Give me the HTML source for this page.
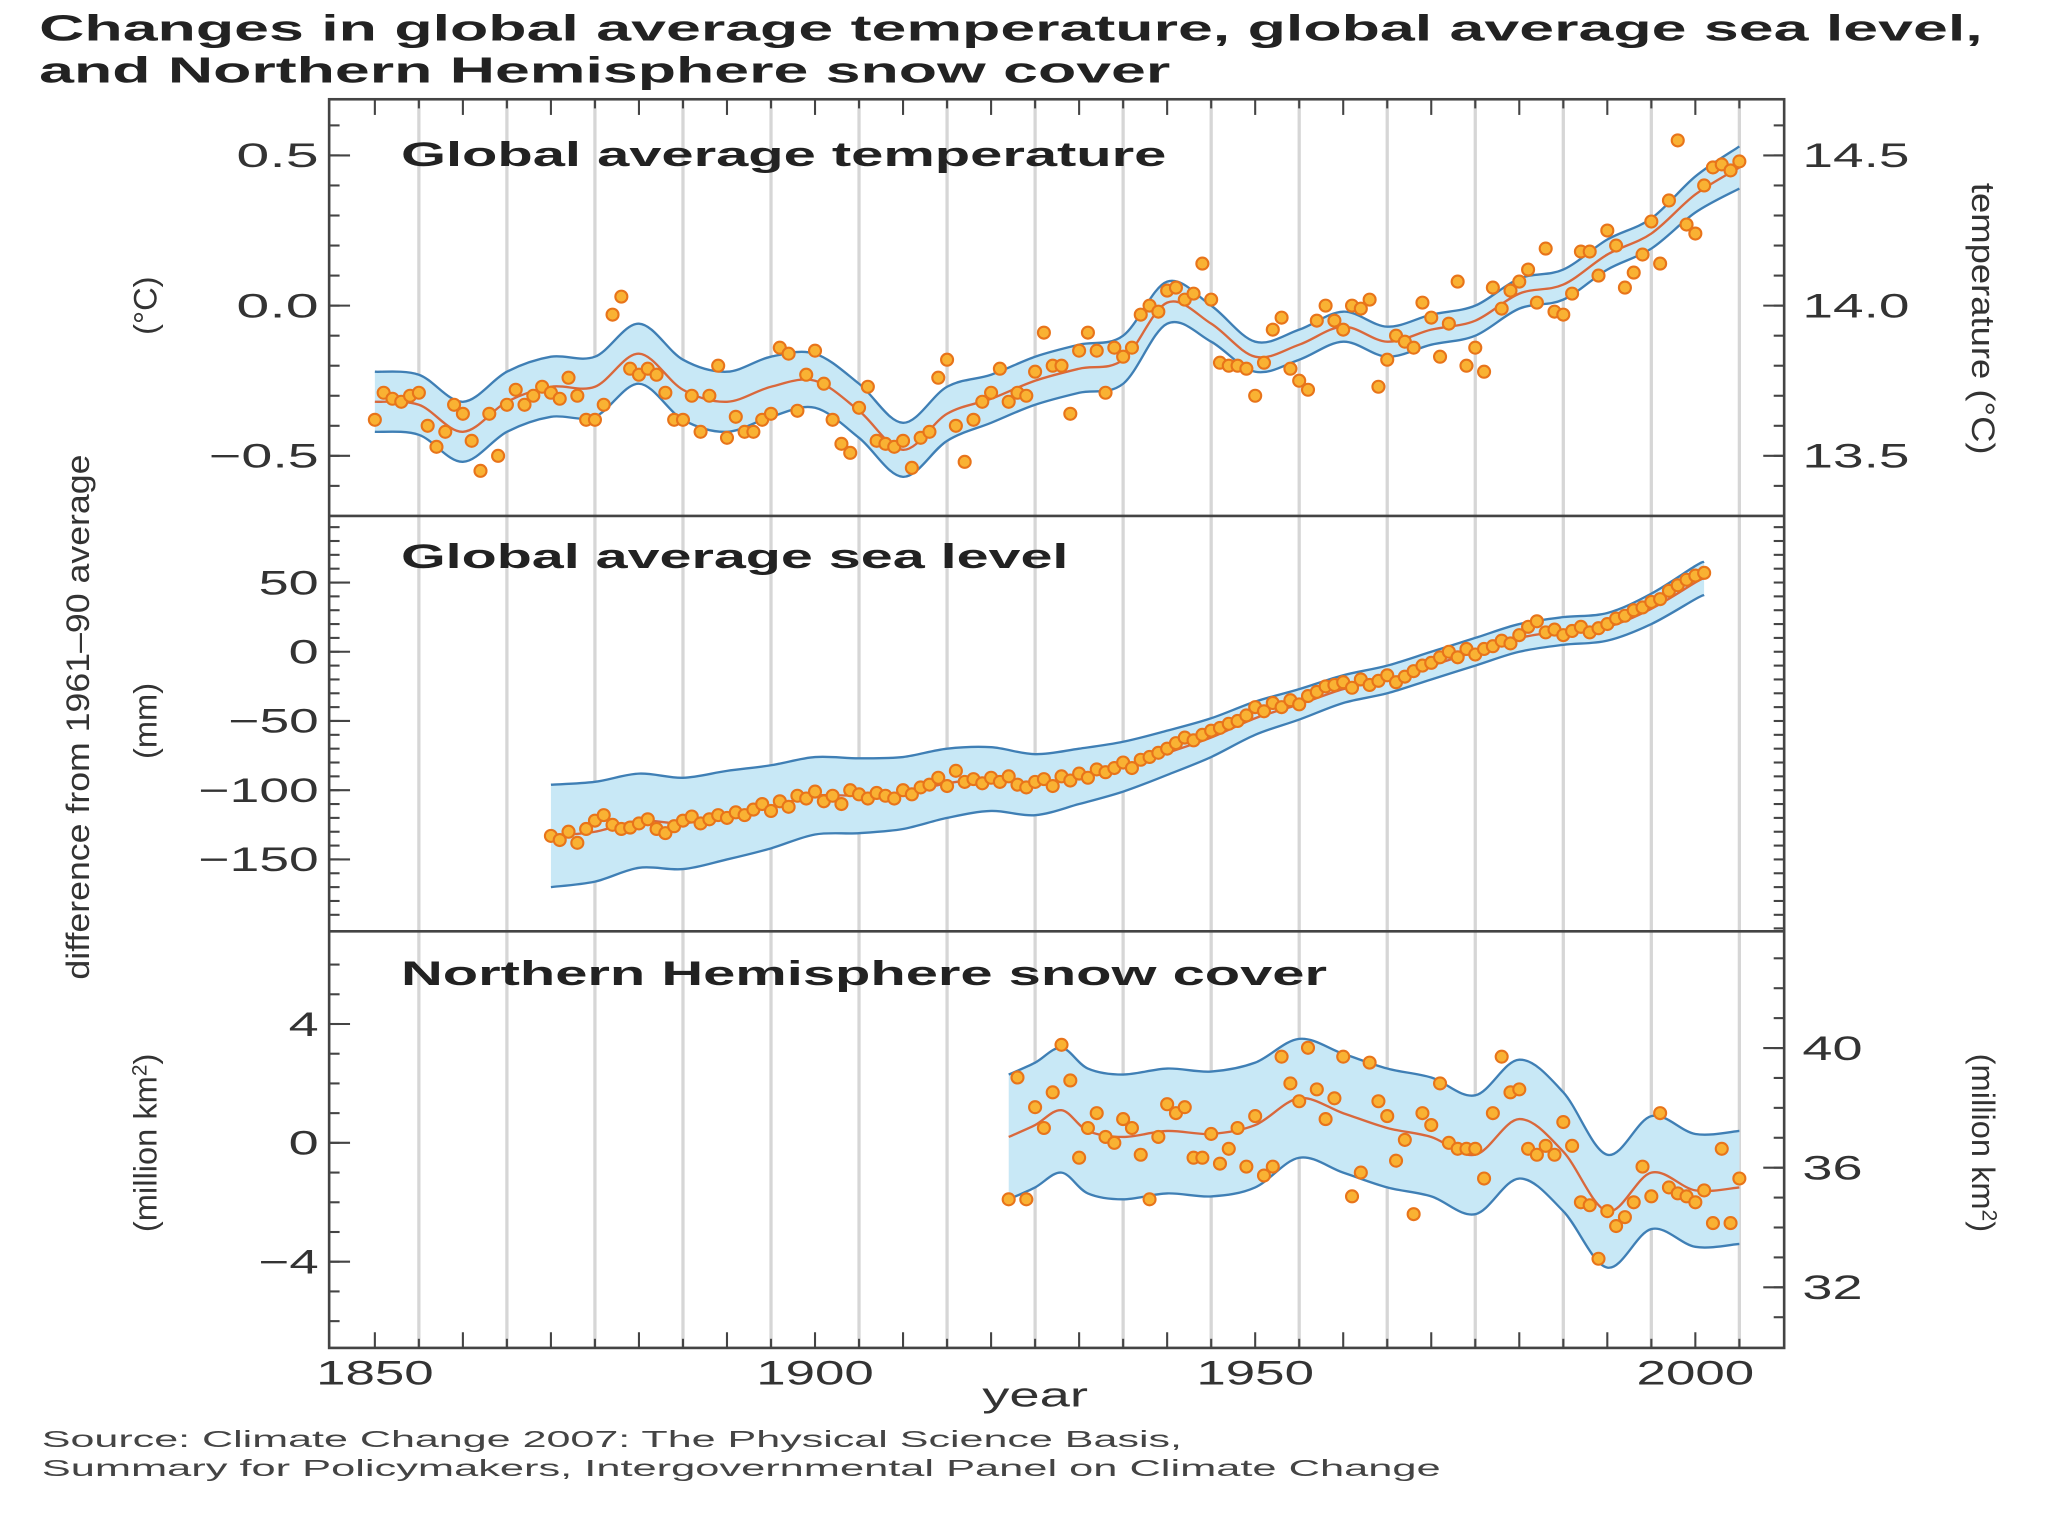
<!DOCTYPE html>
<html><head><meta charset="utf-8"><style>
html,body{margin:0;padding:0;background:#fff;}
svg{display:block;font-family:"Liberation Sans",Arial,sans-serif;}
</style></head><body>
<svg id="chart" width="2048" height="1536" viewBox="0 0 1568 1176" preserveAspectRatio="none" xmlns="http://www.w3.org/2000/svg">
<g id="grid"></g>
<g id="bands"></g>
<g id="pts"></g>
<g id="axes"></g>
<text x="30" y="31" font-size="28" font-weight="bold" fill="#222" textLength="1488" lengthAdjust="spacingAndGlyphs">Changes in global average temperature, global average sea level,</text>
<text x="30" y="63" font-size="28" font-weight="bold" fill="#222" textLength="866" lengthAdjust="spacingAndGlyphs">and Northern Hemisphere snow cover</text>
<text x="307" y="127" font-size="26" font-weight="bold" fill="#222" textLength="586" lengthAdjust="spacingAndGlyphs">Global average temperature</text>
<text x="307" y="435" font-size="26" font-weight="bold" fill="#222" textLength="511" lengthAdjust="spacingAndGlyphs">Global average sea level</text>
<text x="307" y="754" font-size="26" font-weight="bold" fill="#222" textLength="709" lengthAdjust="spacingAndGlyphs">Northern Hemisphere snow cover</text>
<text transform="translate(68,549) rotate(-90)" text-anchor="middle" font-size="25" fill="#333" textLength="402" lengthAdjust="spacingAndGlyphs">difference from 1961–90 average</text>
<text transform="translate(120,234) rotate(-90)" text-anchor="middle" font-size="25" fill="#333">(°C)</text>
<text transform="translate(120,552) rotate(-90)" text-anchor="middle" font-size="25" fill="#333">(mm)</text>
<text transform="translate(120,875) rotate(-90)" text-anchor="middle" font-size="25" fill="#333">(million km<tspan font-size="16" dy="-8">2</tspan><tspan dy="8">)</tspan></text>
<text transform="translate(1510,244) rotate(90)" text-anchor="middle" font-size="25" fill="#333" textLength="208" lengthAdjust="spacingAndGlyphs">temperature (°C)</text>
<text transform="translate(1510,875) rotate(90)" text-anchor="middle" font-size="25" fill="#333">(million km<tspan font-size="16" dy="-8">2</tspan><tspan dy="8">)</tspan></text>
<text x="752" y="1077" font-size="26" fill="#333" textLength="81" lengthAdjust="spacingAndGlyphs">year</text>
<text x="32" y="1108" font-size="18" fill="#444" textLength="873" lengthAdjust="spacingAndGlyphs">Source: Climate Change 2007: The Physical Science Basis,</text>
<text x="32" y="1130" font-size="18" fill="#444" textLength="1071" lengthAdjust="spacingAndGlyphs">Summary for Policymakers, Intergovernmental Panel on Climate Change</text>
</svg>
<script>
const tempYears=[];for(let y=1850;y<=2005;y++)tempYears.push(y);
const tempValues=[-0.38,-0.29,-0.31,-0.32,-0.30,-0.29,-0.40,-0.47,-0.42,-0.33,-0.36,-0.45,-0.55,-0.36,-0.50,-0.33,-0.28,-0.33,-0.30,-0.27,-0.29,-0.31,-0.24,-0.30,-0.38,-0.38,-0.33,-0.03,0.03,-0.21,-0.23,-0.21,-0.23,-0.29,-0.38,-0.38,-0.30,-0.42,-0.30,-0.20,-0.44,-0.37,-0.42,-0.42,-0.38,-0.36,-0.14,-0.16,-0.35,-0.23,-0.15,-0.26,-0.38,-0.46,-0.49,-0.34,-0.27,-0.45,-0.46,-0.47,-0.45,-0.54,-0.44,-0.42,-0.24,-0.18,-0.40,-0.52,-0.38,-0.32,-0.29,-0.21,-0.32,-0.29,-0.30,-0.22,-0.09,-0.20,-0.20,-0.36,-0.15,-0.09,-0.15,-0.29,-0.14,-0.17,-0.14,-0.03,0.00,-0.02,0.05,0.06,0.02,0.04,0.14,0.02,-0.19,-0.20,-0.20,-0.21,-0.30,-0.19,-0.08,-0.04,-0.21,-0.25,-0.28,-0.05,0.00,-0.05,-0.08,0.00,-0.01,0.02,-0.27,-0.18,-0.10,-0.12,-0.14,0.01,-0.04,-0.17,-0.06,0.08,-0.20,-0.14,-0.22,0.06,-0.01,0.05,0.08,0.12,0.01,0.19,-0.02,-0.03,0.04,0.18,0.18,0.10,0.25,0.20,0.06,0.11,0.17,0.28,0.14,0.35,0.55,0.27,0.24,0.40,0.46,0.47,0.45,0.48];
const tempSmoothYears=[1850,1855,1860,1865,1870,1875,1880,1885,1890,1895,1900,1905,1910,1915,1920,1925,1930,1935,1940,1945,1950,1955,1960,1965,1970,1975,1980,1985,1990,1995,2000,2005];
const tempSmooth=[-0.32,-0.33,-0.42,-0.32,-0.27,-0.27,-0.16,-0.28,-0.32,-0.27,-0.25,-0.35,-0.48,-0.36,-0.31,-0.25,-0.21,-0.18,0.01,-0.06,-0.17,-0.13,-0.07,-0.12,-0.08,-0.05,0.04,0.07,0.17,0.24,0.37,0.46];
const tempHalf=[0.1,0.1,0.1,0.1,0.1,0.1,0.1,0.1,0.1,0.1,0.09,0.09,0.09,0.09,0.08,0.08,0.08,0.08,0.07,0.06,0.05,0.05,0.05,0.05,0.05,0.05,0.05,0.05,0.05,0.05,0.06,0.07];

const seaYears=[];for(let y=1870;y<=2001;y++)seaYears.push(y);
const seaValues=[-133,-136,-130,-138,-128,-122,-118,-125,-128,-127,-124,-121,-128,-131,-126,-122,-119,-124,-121,-118,-120,-116,-118,-114,-110,-115,-108,-112,-104,-106,-101,-108,-104,-110,-100,-103,-106,-102,-104,-106,-100,-103,-98,-96,-91,-97,-86,-94,-92,-95,-91,-94,-90,-96,-98,-94,-92,-97,-90,-93,-88,-91,-85,-87,-84,-80,-84,-78,-76,-73,-70,-66,-62,-64,-60,-57,-55,-52,-50,-46,-40,-43,-37,-40,-35,-38,-32,-29,-25,-24,-22,-26,-20,-24,-21,-17,-22,-18,-14,-10,-8,-4,0,-4,2,-2,2,4,8,6,12,18,22,14,16,12,15,18,14,17,20,24,26,30,32,36,38,44,48,52,55,57];
const seaSmoothYears=[1870,1875,1880,1885,1890,1895,1900,1905,1910,1915,1920,1925,1930,1935,1940,1945,1950,1955,1960,1965,1970,1975,1980,1985,1990,1995,2000,2001];
const seaSmooth=[-133,-130,-122,-124,-118,-112,-104,-104,-102,-95,-92,-96,-90,-83,-73,-62,-48,-38,-27,-20,-10,0,10,15,18,31,50,53];
const seaHalf=[37,36,34,33,32,30,28,27,26,25,23,22,20,18,16,14,12,11,10,10,10,10,10,10,10,11,12,12];

const snowYears=[];for(let y=1922;y<=2005;y++)snowYears.push(y);
const snowValues=[-1.9,2.2,-1.9,1.2,0.5,1.7,3.3,2.1,-0.5,0.5,1.0,0.2,0.0,0.8,0.5,-0.4,-1.9,0.2,1.3,1.0,1.2,-0.5,-0.5,0.3,-0.7,-0.2,0.5,-0.8,0.9,-1.1,-0.8,2.9,2.0,1.4,3.2,1.8,0.8,1.5,2.9,-1.8,-1.0,2.7,1.4,0.9,-0.6,0.1,-2.4,1.0,0.6,2.0,0.0,-0.2,-0.2,-0.2,-1.2,1.0,2.9,1.7,1.8,-0.2,-0.4,-0.1,-0.4,0.7,-0.1,-2.0,-2.1,-3.9,-2.3,-2.8,-2.5,-2.0,-0.8,-1.8,1.0,-1.5,-1.7,-1.8,-2.0,-1.6,-2.7,-0.2,-2.7,-1.2];
const snowSmoothYears=[1922,1925,1928,1931,1935,1940,1945,1950,1955,1960,1965,1970,1975,1980,1985,1990,1995,2000,2005];
const snowSmooth=[0.2,0.6,1.1,0.4,0.2,0.4,0.3,0.6,1.5,1.0,0.5,0.2,-0.4,0.8,-0.3,-2.3,-1.0,-1.6,-1.5];
const snowHalf=[2.1,2.1,2.1,2.1,2.1,2.1,2.1,2.1,2.0,2.0,2.0,2.0,2.0,2.0,2.0,1.9,1.9,1.9,1.9];

const NS='http://www.w3.org/2000/svg';
const xS=y=>287+(y-1850)*(1298-287)/150;
const yT=v=>234-v*230;
const yS=v=>499-v*1.06;
const yN=v=>875-v*22.75;
function mk(tag,attrs,parent){const e=document.createElementNS(NS,tag);for(const k in attrs)e.setAttribute(k,attrs[k]);parent.appendChild(e);return e;}
function smoothPath(pts){let d='M'+pts[0][0].toFixed(1)+','+pts[0][1].toFixed(1);for(let i=0;i<pts.length-1;i++){const p0=pts[Math.max(0,i-1)],p1=pts[i],p2=pts[i+1],p3=pts[Math.min(pts.length-1,i+2)];const c1=[p1[0]+(p2[0]-p0[0])/6,p1[1]+(p2[1]-p0[1])/6],c2=[p2[0]-(p3[0]-p1[0])/6,p2[1]-(p3[1]-p1[1])/6];d+=' C'+c1.map(v=>v.toFixed(1))+' '+c2.map(v=>v.toFixed(1))+' '+p2[0].toFixed(1)+','+p2[1].toFixed(1);}return d;}
const grid=document.getElementById('grid'),bands=document.getElementById('bands'),pts=document.getElementById('pts'),axes=document.getElementById('axes');
for(let y=1855;y<=2005;y+=10){const l=mk('line',{x1:xS(y),x2:xS(y),y1:76,y2:1032,stroke:'#d6d6d6','stroke-width':2.5},grid);

}
function drawPanel(name,sy,sv,sh,ys,yv,ysc){
 const up=sy.map((y,i)=>[xS(y),ysc(sv[i]+sh[i])]),lo=sy.map((y,i)=>[xS(y),ysc(sv[i]-sh[i])]);
 const upD=smoothPath(up),loR=smoothPath(lo.slice().reverse());
 const f=mk('path',{d:upD+' L'+loR.slice(1),fill:'#c8e8f6',stroke:'none'},bands);
 
 
 const u=mk('path',{d:upD,fill:'none',stroke:'#3f7fb5','stroke-width':1.8},bands);
 
 
 const l=mk('path',{d:smoothPath(lo),fill:'none',stroke:'#3f7fb5','stroke-width':1.8},bands);
 
 
 const c=mk('path',{d:smoothPath(sy.map((y,i)=>[xS(y),ysc(sv[i])])),fill:'none',stroke:'#d9683c','stroke-width':1.8},bands);
 
 
 ys.forEach((y,i)=>{const p=mk('circle',{cx:xS(y),cy:ysc(yv[i]),r:4.6,fill:'#f9b233',stroke:'#e8741a','stroke-width':1.6},pts);
 
 });
}
drawPanel('temperature',tempSmoothYears,tempSmooth,tempHalf,tempYears,tempValues,yT);
drawPanel('sea-level',seaSmoothYears,seaSmooth,seaHalf,seaYears,seaValues,yS);
drawPanel('snow-cover',snowSmoothYears,snowSmooth,snowHalf,snowYears,snowValues,yN);
const fr=mk('rect',{x:252,y:76,width:1114,height:956,fill:'none',stroke:'#444','stroke-width':2},axes);


[395,713].forEach(y=>{const d=mk('line',{x1:252,x2:1366,y1:y,y2:y,stroke:'#444','stroke-width':2},axes);

});
function tick(x,y,len,dir,vert){const a=vert?{x1:x,x2:x,y1:y,y2:y+len*dir}:{x1:x,x2:x+len*dir,y1:y,y2:y};a.stroke='#444';a['stroke-width']=1.6;const t=mk('line',a,axes);

}
for(let y=1850;y<=2005;y+=10){tick(xS(y),1032,-12,1,true);tick(xS(y),76,12,1,true);}
for(let y=1855;y<=2005;y+=10){tick(xS(y),1032,-7,1,true);tick(xS(y),76,7,1,true);}
function label(x,y,txt,anchor,name,w){const a={x:x,y:y,'text-anchor':anchor,'font-size':26,fill:'#333'};if(w){a.textLength=w;a.lengthAdjust='spacingAndGlyphs';}const t=mk('text',a,axes);t.textContent=txt;

}
const xTicks=[1850,1900,1950,2000];
xTicks.forEach(y=>label(xS(y)-45,1060,String(y),'start','x-tick-label',90));
const tTicks=[0.5,0.0,-0.5],tTickLabels=['0.5','0.0','−0.5'];
for(let v=-0.6;v<=0.65;v+=0.1){tick(252,yT(v),8,1);}
tTicks.forEach((v,i)=>{tick(252,yT(v),16,1);const w=tTickLabels[i].length*21;label(244-w,yT(v)+9,tTickLabels[i],'start','temp-tick-label',w);});
const tRight=[14.5,14.0,13.5],tRightLabels=['14.5','14.0','13.5'];
for(let v=13.4;v<=14.65;v+=0.1){tick(1366,yT(v-14),-8,1);}
tRight.forEach((v,i)=>{tick(1366,yT(v-14),-16,1);label(1380,yT(v-14)+9,tRightLabels[i],'start','temp-right-tick-label',82);});
const sTicks=[50,0,-50,-100,-150],sTickLabels=['50','0','−50','−100','−150'];
for(let v=-190;v<=90;v+=10){tick(252,yS(v),8,1);tick(1366,yS(v),-8,1);}
sTicks.forEach((v,i)=>{tick(252,yS(v),16,1);const w=sTickLabels[i].length*23;label(244-w,yS(v)+9,sTickLabels[i],'start','sea-tick-label',w);});
const nTicks=[4,0,-4],nTickLabels=['4','0','−4'];
for(let v=-6;v<=6;v++){tick(252,yN(v),8,1);}
nTicks.forEach((v,i)=>{tick(252,yN(v),16,1);const w=nTickLabels[i].length*23;label(244-w,yN(v)+9,nTickLabels[i],'start','snow-tick-label',w);});
const nRight=[40,36,32],nRightLabels=['40','36','32'];
const yNR=v=>894-(v-36)*22.9;
for(let v=31;v<=44;v++){tick(1366,yNR(v),-8,1);}
nRight.forEach((v,i)=>{tick(1366,yNR(v),-16,1);label(1380,yNR(v)+9,nRightLabels[i],'start','snow-right-tick-label',46);});
</script>
</body></html>
